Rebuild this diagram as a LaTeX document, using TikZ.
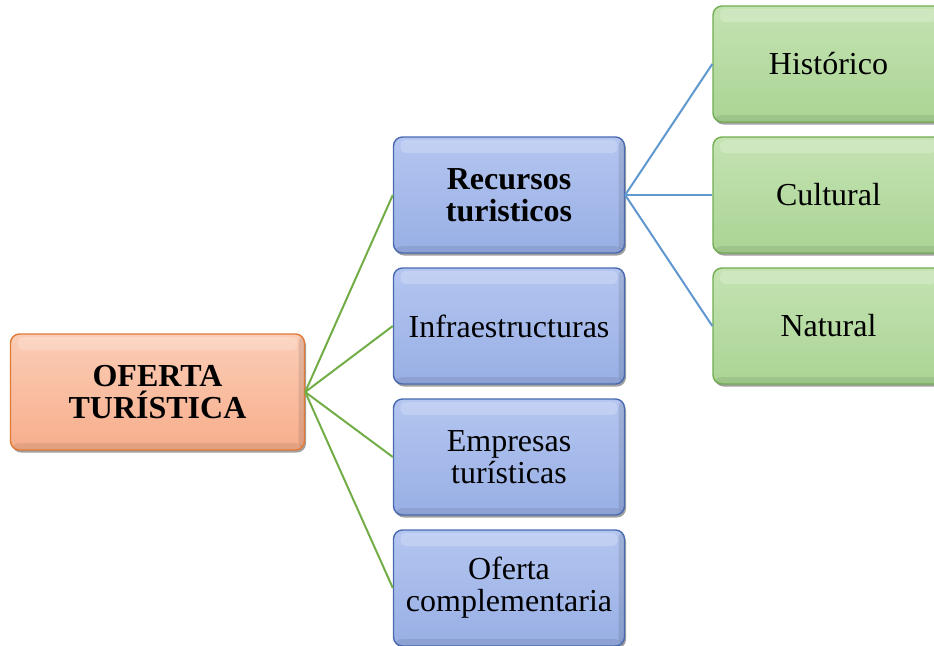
\documentclass[tikz,border=0pt]{standalone}
\usepackage{fontspec}
\setmainfont{Liberation Serif}
\usetikzlibrary{shadows}
\definecolor{orfill}{HTML}{F7AE8C}
\definecolor{ortop}{HTML}{FBCDB6}
\definecolor{ordraw}{HTML}{E07A35}
\definecolor{blfill}{HTML}{98AFE5}
\definecolor{bltop}{HTML}{B4C6F0}
\definecolor{bldraw}{HTML}{4A6AB0}
\definecolor{grfill}{HTML}{AAD494}
\definecolor{grtop}{HTML}{C4E3B2}
\definecolor{grdraw}{HTML}{72AD52}
\definecolor{lgreen}{HTML}{72AD47}
\definecolor{lblue}{HTML}{5F97CF}
\tikzset{
  box/.style={rectangle, rounded corners=9pt, line width=1.4pt, align=center,
    font=\fontsize{32}{32}\selectfont, inner sep=2pt,
    drop shadow={shadow xshift=1.5pt, shadow yshift=-2.5pt, opacity=0.5, fill=black!75},
    path picture={
      \fill[white,opacity=0.2,rounded corners=5pt]
      ([xshift=7pt,yshift=-3pt]path picture bounding box.north west) rectangle
      ([xshift=-7pt,yshift=-16pt]path picture bounding box.north east);
      \fill[black,opacity=0.08]
      ([yshift=7pt]path picture bounding box.south west) rectangle
      (path picture bounding box.south east);
      \fill[black,opacity=0.1]
      ([xshift=-6pt]path picture bounding box.north east) rectangle
      (path picture bounding box.south east);}},
  orbox/.style={box, draw=ordraw, top color=ortop, bottom color=orfill,
    minimum width=294pt, minimum height=116pt},
  blbox/.style={box, draw=bldraw, top color=bltop, bottom color=blfill,
    minimum width=231pt, minimum height=116pt},
  grbox/.style={box, draw=grdraw, top color=grtop, bottom color=grfill,
    minimum width=231pt, minimum height=116pt},
  gline/.style={draw=lgreen, line width=2pt},
  bline/.style={draw=lblue, line width=2pt}
}
\begin{document}
\begin{tikzpicture}[x=1pt,y=-1pt]
\useasboundingbox (0,0) rectangle (934,645);
\node[orbox] (of) at (157.5,392) {\textbf{OFERTA}\\\textbf{TURÍSTICA}};
\node[blbox] (b1) at (509,195) {\textbf{Recursos}\\\textbf{turisticos}};
\node[blbox] (b2) at (509,326) {Infraestructuras};
\node[blbox] (b3) at (509,457) {Empresas\\turísticas};
\node[blbox] (b4) at (509,588) {Oferta\\complementaria};
\node[grbox] (g1) at (828.5,64) {Histórico};
\node[grbox] (g2) at (828.5,195) {Cultural};
\node[grbox] (g3) at (828.5,326) {Natural};
\foreach \b in {b1,b2,b3,b4} \draw[gline] (of.east) -- (\b.west);
\foreach \g in {g1,g2,g3} \draw[bline] (b1.east) -- (\g.west);
\end{tikzpicture}
\end{document}
